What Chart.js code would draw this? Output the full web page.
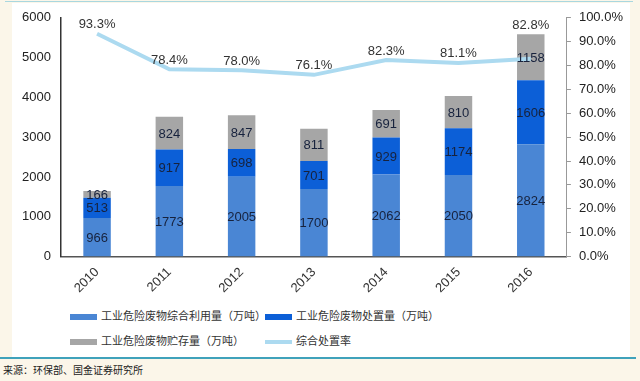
<!DOCTYPE html>
<html>
<head>
<meta charset="utf-8">
<script src="https://cdn.jsdelivr.net/npm/chart.js@4/dist/chart.umd.min.js"></script>
<style>
  html, body { margin:0; padding:0; }
  body { width:640px; height:381px; background:#fbf6e9; position:relative; overflow:hidden; font-family:"Liberation Sans", Arial, sans-serif; }
  #panel { position:absolute; left:12px; top:3px; width:618px; height:354px; background:#ffffff; }
  #topline { position:absolute; left:5px; top:1px; width:628px; height:1px; background:#a9d7df; }
  #botline { position:absolute; left:0px; top:357px; width:636px; height:2px; background:#3fa2bb; }
  #wrap { position:absolute; left:0; top:0; width:640px; height:304px; }
  #legend { position:absolute; left:70px; top:306px; font-family:"Noto Sans CJK SC", sans-serif; font-size:11px; color:#333; }
  .row { position:relative; height:25px; }
  .item { position:absolute; top:0; height:18px; line-height:18px; white-space:nowrap; }
  .sw { display:inline-block; width:27px; vertical-align:middle; margin-right:4px; }
  #source { position:absolute; left:3px; top:362px; font-family:"Noto Sans CJK SC", sans-serif; font-size:10px; color:#222; }
</style>
</head>
<body>
<div id="panel"></div>
<div id="topline"></div>
<div id="botline"></div>
<div id="wrap"><canvas id="c" width="640" height="304"></canvas></div>
<div id="legend"></div>
<div id="source">来源：环保部、国金证券研究所</div>
<script>
const years = ['2010','2011','2012','2013','2014','2015','2016'];
const utilization = [966, 1773, 2005, 1700, 2062, 2050, 2824];
const disposal = [513, 917, 698, 701, 929, 1174, 1606];
const storage = [166, 824, 847, 811, 691, 810, 1158];
const disposalRate = [93.3, 78.4, 78.0, 76.1, 82.3, 81.1, 82.8];

const seriesNames = ['工业危险废物综合利用量（万吨）','工业危险废物处置量（万吨）','工业危险废物贮存量（万吨）','综合处置率'];
const colors = ['#4a86d4', '#0c5fd7', '#a6a6a6', '#acdaf0'];

const labelPlugin = {
  id: 'labels',
  afterDatasetsDraw(chart) {
    const ctx = chart.ctx;
    ctx.save();
    ctx.font = '13px "Liberation Sans", Arial, sans-serif';
    ctx.textAlign = 'center';
    ctx.textBaseline = 'middle';
    for (let d = 0; d < 3; d++) {
      const meta = chart.getDatasetMeta(d);
      meta.data.forEach((bar, i) => {
        const v = chart.data.datasets[d].data[i];
        const cy = (bar.y + bar.base) / 2;
        ctx.fillStyle = '#17223d';
        ctx.fillText(String(v), bar.x, cy + 1);
      });
    }
    const lineMeta = chart.getDatasetMeta(3);
    const topMeta = chart.getDatasetMeta(2);
    lineMeta.data.forEach((pt, i) => {
      const barTop = topMeta.data[i].y;
      const y = Math.min(pt.y, barTop) - 9;
      ctx.fillStyle = '#333333';
      ctx.fillText(disposalRate[i].toFixed(1) + '%', pt.x, y);
    });
    ctx.restore();
  }
};

new Chart(document.getElementById('c'), {
  data: {
    labels: years,
    datasets: [
      { type:'bar', label: seriesNames[0], data: utilization, backgroundColor: colors[0], yAxisID:'y', stack:'s', barPercentage:0.76, categoryPercentage:0.5, order:2 },
      { type:'bar', label: seriesNames[1], data: disposal, backgroundColor: colors[1], yAxisID:'y', stack:'s', barPercentage:0.76, categoryPercentage:0.5, order:2 },
      { type:'bar', label: seriesNames[2], data: storage, backgroundColor: colors[2], yAxisID:'y', stack:'s', barPercentage:0.76, categoryPercentage:0.5, order:2 },
      { type:'line', label: seriesNames[3], data: disposalRate, borderColor: colors[3], backgroundColor: colors[3], borderWidth:4, pointRadius:0, tension:0, yAxisID:'y1', order:1 }
    ]
  },
  options: {
    responsive:false,
    animation:false,
    devicePixelRatio:1,
    layout: { padding: { left: 12, right: 9, top: 17, bottom: 0 } },
    plugins: { legend:{ display:false }, tooltip:{ enabled:false } },
    scales: {
      x: {
        stacked:true,
        grid:{ display:false, drawTicks:false },
        border:{ display:true, color:'#555555', width:1.5 },
        ticks:{ color:'#333', font:{ size:13, family:'"Liberation Sans", Arial, sans-serif' }, minRotation:45, maxRotation:45, padding:8 }
      },
      y: {
        stacked:true, min:0, max:6000,
        position:'left',
        grid:{ display:false, drawTicks:false },
        border:{ display:true, color:'#333333', width:1.5 },
        ticks:{ stepSize:1000, color:'#222', font:{ size:13, family:'"Liberation Sans", Arial, sans-serif' }, padding:10, callback:(v)=> String(v) }
      },
      y1: {
        min:0, max:100, position:'right', stacked:false,
        grid:{ display:true, drawOnChartArea:false, drawTicks:true, tickLength:4, color:'#999999' },
        border:{ display:true, color:'#999999', width:1 },
        ticks:{ stepSize:10, color:'#222', font:{ size:13, family:'"Liberation Sans", Arial, sans-serif' }, padding:8, callback:(v)=> v.toFixed(1) + '%' }
      }
    }
  },
  plugins:[labelPlugin]
});

const legend = document.getElementById('legend');
const layout = [[0,1],[2,3]];
layout.forEach(row => {
  const r = document.createElement('div'); r.className = 'row';
  row.forEach((idx, col) => {
    const it = document.createElement('div'); it.className = 'item';
    it.style.left = (col === 0 ? 0 : 195) + 'px';
    const sw = document.createElement('span'); sw.className = 'sw';
    sw.style.height = idx === 3 ? '4px' : '6px';
    sw.style.background = colors[idx];
    it.appendChild(sw);
    it.appendChild(document.createTextNode(seriesNames[idx]));
    r.appendChild(it);
  });
  legend.appendChild(r);
});
</script>
</body>
</html>
